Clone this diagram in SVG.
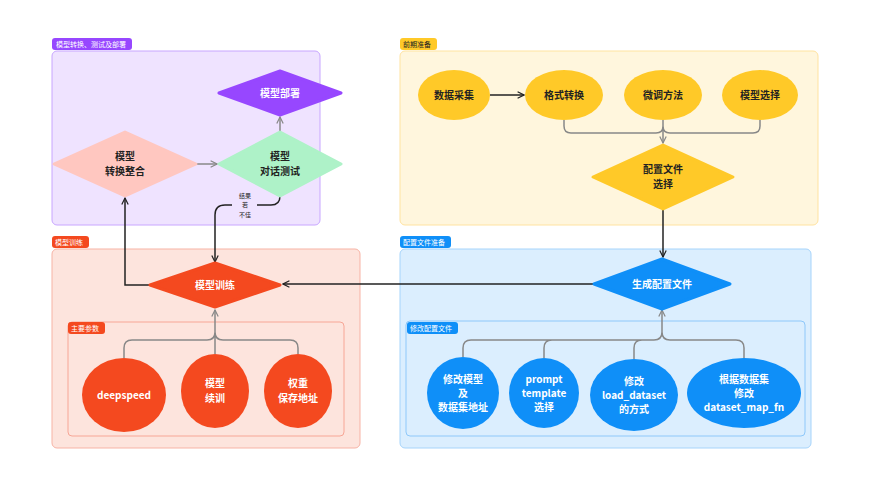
<svg xmlns="http://www.w3.org/2000/svg" width="870" height="500" viewBox="0 0 870 500">
<defs>
<marker id="ab" viewBox="0 0 10 10" refX="9" refY="5" markerWidth="8" markerHeight="8" orient="auto-start-reverse" markerUnits="userSpaceOnUse"><path d="M1,1 L9,5 L1,9" fill="none" stroke="#222" stroke-width="1.5"/></marker>
<marker id="ag" viewBox="0 0 10 10" refX="9" refY="5" markerWidth="8" markerHeight="8" orient="auto-start-reverse" markerUnits="userSpaceOnUse"><path d="M1,1 L9,5 L1,9" fill="none" stroke="#888" stroke-width="1.5"/></marker>
<style>
text{font-family:"Noto Sans CJK SC","Liberation Sans",sans-serif;text-anchor:middle;font-weight:bold}
.t{font-size:10px;fill:#222}
.w{font-size:10px;fill:#fff}
.lb{font-size:7px;fill:#fff;font-weight:normal;text-anchor:start}
.cb{fill:none;stroke:#222;stroke-width:1.5}
.cg{fill:none;stroke:#888;stroke-width:1.5}
</style>
</defs>
<rect width="870" height="500" fill="#fff"/>
<g id="panels">
<rect x="52" y="51" width="268" height="174" rx="5" fill="#efe3ff" stroke="#c8a6ff"/>
<rect x="52" y="38" width="80" height="12" rx="3" fill="#9747ff"/><text class="lb" x="56" y="47">模型转换、测试及部署</text>
<rect x="400" y="51" width="418" height="174" rx="5" fill="#fff6dd" stroke="#ffe3a0"/>
<rect x="400" y="38" width="37" height="12" rx="3" fill="#ffc928"/><text class="lb" x="403" y="47" style="fill:#222">前期准备</text>
<rect x="52" y="249" width="308" height="199" rx="5" fill="#fde4dd" stroke="#f7b3a5"/>
<rect x="52" y="236" width="37" height="12" rx="3" fill="#f4491f"/><text class="lb" x="55" y="245">模型训练</text>
<rect x="68" y="322" width="276" height="114" rx="4" fill="none" stroke="#f7a696"/>
<rect x="68" y="322" width="37" height="12" rx="3" fill="#f4491f"/><text class="lb" x="71" y="331">主要参数</text>
<rect x="400" y="249" width="411" height="199" rx="5" fill="#dbeefe" stroke="#a6d4fb"/>
<rect x="400" y="236" width="51" height="12" rx="3" fill="#0f8ff8"/><text class="lb" x="403" y="245">配置文件准备</text>
<rect x="406" y="321" width="399" height="115" rx="4" fill="none" stroke="#8ec8fa"/>
<rect x="407" y="322" width="51" height="12" rx="3" fill="#0f8ff8"/><text class="lb" x="410" y="331">修改配置文件</text>
</g>
<g id="connectors">
<line class="cg" x1="197" y1="164" x2="217" y2="164" marker-end="url(#ag)"/>
<line class="cg" x1="280" y1="132" x2="280" y2="117" marker-end="url(#ag)"/>
<path class="cb" d="M280,196 Q280,205 271,205 L257,205 M232,205 L225,205 Q215,205 215,215 L215,262" marker-end="url(#ab)"/>
<path class="cb" d="M150,285 L125,285 L125,198" marker-end="url(#ab)"/>
<line class="cb" x1="490" y1="95" x2="524" y2="95" marker-end="url(#ab)"/>
<path class="cg" d="M564,120 L564,126 Q564,133 571,133 L656,133 Q663,133 663,126 M760,120 L760,126 Q760,133 753,133 L670,133 Q663,133 663,126 M663,120 L663,143" marker-end="url(#ag)"/>
<line class="cb" x1="663" y1="209" x2="663" y2="257" marker-end="url(#ab)"/>
<line class="cb" x1="594" y1="284" x2="283" y2="284" marker-end="url(#ab)"/>
<path class="cg" d="M124,358 L124,348 Q124,340 132,340 L207,340 Q215,340 215,332 M298,354 L298,348 Q298,340 290,340 L223,340 Q215,340 215,332 M215,354 L215,310" marker-end="url(#ag)"/>
<path class="cg" d="M463,357 L463,348 Q463,340 471,340 L654,340 Q662,340 662,332 M544,358 L544,348 Q544,340 552,340 M634,359 L634,348 Q634,340 642,340 M744,358 L744,348 Q744,340 736,340 L670,340 Q662,340 662,332 L662,310" marker-end="url(#ag)"/>
</g>
<g id="n-deploy"><polygon points="219,93 280,71 341,93 280,115" fill="#9747ff" stroke="#9747ff" stroke-linejoin="round" stroke-width="3"/><text class="w" x="280" y="97">模型部署</text></g>
<g id="n-convert"><polygon points="54,164 125,132 196,164 125,196" fill="#ffc7c0" stroke="#ffc7c0" stroke-linejoin="round" stroke-width="3"/><text class="t" x="125" y="160">模型</text><text class="t" x="125" y="175">转换整合</text></g>
<g id="n-test"><polygon points="219,164 280,132 341,164 280,196" fill="#aef2c8" stroke="#aef2c8" stroke-linejoin="round" stroke-width="3"/><text class="t" x="280" y="160">模型</text><text class="t" x="280" y="175">对话测试</text></g>
<g id="n-bad"><text x="245" y="198" style="font-size:6px;fill:#222;font-weight:normal">结果</text><text x="245" y="207" style="font-size:6px;fill:#222;font-weight:normal">若</text><text x="245" y="217" style="font-size:6px;fill:#222;font-weight:normal">不佳</text></g>
<g id="n-train"><polygon points="150,285 215,263 280,285 215,307" fill="#f4491f" stroke="#f4491f" stroke-linejoin="round" stroke-width="3"/><text class="w" x="215" y="289">模型训练</text></g>
<g id="n-ds"><ellipse cx="124" cy="395" rx="42" ry="37" fill="#f4491f"/><text class="w" x="124" y="399">deepspeed</text></g>
<g id="n-resume"><ellipse cx="215" cy="391" rx="34" ry="37" fill="#f4491f"/><text class="w" x="215" y="387">模型</text><text class="w" x="215" y="402">续训</text></g>
<g id="n-save"><ellipse cx="298" cy="391" rx="34" ry="37" fill="#f4491f"/><text class="w" x="298" y="387">权重</text><text class="w" x="298" y="402">保存地址</text></g>
<g id="n-collect"><ellipse cx="454" cy="95" rx="36" ry="25" fill="#ffc928"/><text class="t" x="454" y="99">数据采集</text></g>
<g id="n-format"><ellipse cx="564" cy="95" rx="39" ry="25" fill="#ffc928"/><text class="t" x="564" y="99">格式转换</text></g>
<g id="n-method"><ellipse cx="663" cy="95" rx="39" ry="25" fill="#ffc928"/><text class="t" x="663" y="99">微调方法</text></g>
<g id="n-select"><ellipse cx="760" cy="95" rx="38" ry="25" fill="#ffc928"/><text class="t" x="760" y="99">模型选择</text></g>
<g id="n-cfgsel"><polygon points="593,177 663,145 733,177 663,209" fill="#ffc928" stroke="#ffc928" stroke-linejoin="round" stroke-width="3"/><text class="t" x="663" y="173">配置文件</text><text class="t" x="663" y="188">选择</text></g>
<g id="n-gen"><polygon points="594,284 662,259 730,284 662,309" fill="#0f8ff8" stroke="#0f8ff8" stroke-linejoin="round" stroke-width="3"/><text class="w" x="662" y="288">生成配置文件</text></g>
<g id="n-m1"><ellipse cx="463" cy="393" rx="36" ry="36" fill="#0f8ff8"/><text class="w" x="463" y="383">修改模型</text><text class="w" x="463" y="397">及</text><text class="w" x="463" y="411">数据集地址</text></g>
<g id="n-m2"><ellipse cx="544" cy="393" rx="35" ry="35" fill="#0f8ff8"/><text class="w" x="544" y="383">prompt</text><text class="w" x="544" y="397">template</text><text class="w" x="544" y="411">选择</text></g>
<g id="n-m3"><ellipse cx="634" cy="395" rx="44" ry="36" fill="#0f8ff8"/><text class="w" x="634" y="385">修改</text><text class="w" x="634" y="399">load_dataset</text><text class="w" x="634" y="413">的方式</text></g>
<g id="n-m4"><ellipse cx="744" cy="393" rx="57" ry="35" fill="#0f8ff8"/><text class="w" x="744" y="383">根据数据集</text><text class="w" x="744" y="397">修改</text><text class="w" x="744" y="411">dataset_map_fn</text></g>
</svg>
